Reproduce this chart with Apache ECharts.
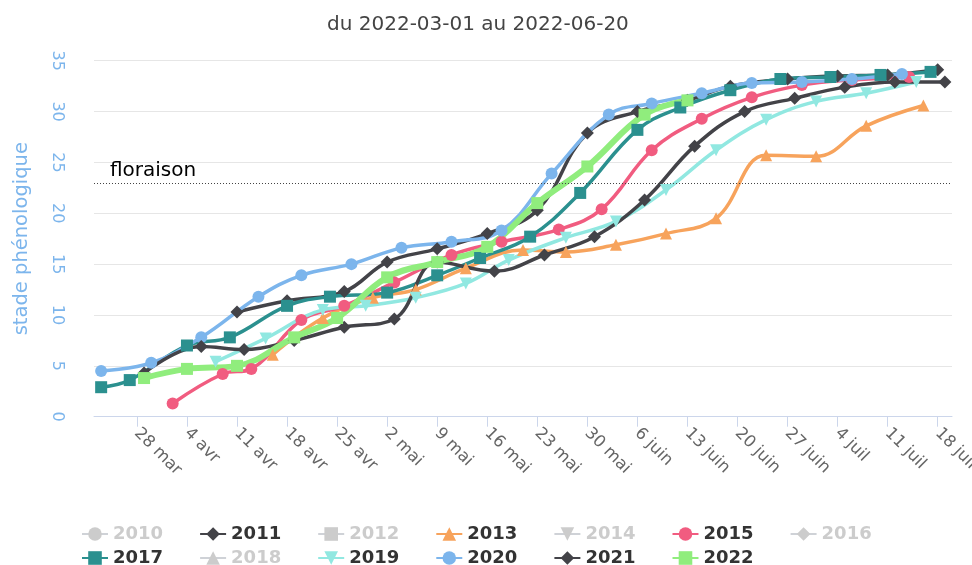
<!DOCTYPE html>
<html>
<head>
<meta charset="utf-8">
<script src="https://cdn.jsdelivr.net/npm/echarts@6/dist/echarts.min.js"></script>
<style>
html,body{margin:0;padding:0;background:#fff;}
#chart{width:972px;height:565px;}
</style>
</head>
<body>
<div id="chart"></div>
<script>
// ---- data ----
const titleText = "du 2022-03-01 au 2022-06-20";
const yAxisName = "stade phénologique";
const floraisonValue = 23;
const floraisonLabel = "floraison";

const tickDates = ["2022-03-28","2022-04-04","2022-04-11","2022-04-18","2022-04-25","2022-05-02","2022-05-09","2022-05-16","2022-05-23","2022-05-30","2022-06-06","2022-06-13","2022-06-20","2022-06-27","2022-07-04","2022-07-11","2022-07-18"];
const tickLabels = ["28 mar","4 avr","11 avr","18 avr","25 avr","2 mai","9 mai","16 mai","23 mai","30 mai","6 juin","13 juin","20 juin","27 juin","4 juil","11 juil","18 juil"];
const xStart = "2022-03-22";
const xEnd = "2022-07-20";

const years = ["2010","2011","2012","2013","2014","2015","2016","2017","2018","2019","2020","2021","2022"];
const hiddenYears = ["2010","2012","2014","2016","2018"];

const s2010 = [];
const s2011 = [["2022-04-11",10.3],["2022-04-18",11.4],["2022-04-26",12.3],["2022-05-02",15.2],["2022-05-09",16.5],["2022-05-16",18.0],["2022-05-23",20.3],["2022-05-30",27.9],["2022-06-06",30.0],["2022-06-13",31.1],["2022-06-19",32.5],["2022-06-27",33.2],["2022-07-04",33.5],["2022-07-11",33.6],["2022-07-18",34.1]];
const s2012 = [];
const s2013 = [["2022-04-16",6.1],["2022-04-23",9.7],["2022-04-30",11.7],["2022-05-06",12.5],["2022-05-13",14.6],["2022-05-21",16.4],["2022-05-27",16.2],["2022-06-03",16.9],["2022-06-10",18.0],["2022-06-17",19.5],["2022-06-24",25.7],["2022-07-01",25.6],["2022-07-08",28.6],["2022-07-16",30.6]];
const s2014 = [];
const s2015 = [["2022-04-02",1.3],["2022-04-09",4.2],["2022-04-13",4.7],["2022-04-20",9.5],["2022-04-26",10.9],["2022-05-03",13.2],["2022-05-11",15.9],["2022-05-18",17.2],["2022-05-26",18.4],["2022-06-01",20.4],["2022-06-08",26.2],["2022-06-15",29.3],["2022-06-22",31.4],["2022-06-29",32.6],["2022-07-06",33.1],["2022-07-14",33.4]];
const s2016 = [];
const s2017 = [["2022-03-23",2.9],["2022-03-27",3.6],["2022-04-04",7.0],["2022-04-10",7.8],["2022-04-18",10.9],["2022-04-24",11.8],["2022-05-02",12.2],["2022-05-09",13.9],["2022-05-15",15.6],["2022-05-22",17.7],["2022-05-29",22.0],["2022-06-06",28.2],["2022-06-12",30.4],["2022-06-19",32.1],["2022-06-26",33.2],["2022-07-03",33.4],["2022-07-10",33.6],["2022-07-17",33.9]];
const s2018 = [];
const s2019 = [["2022-04-08",5.4],["2022-04-15",7.7],["2022-04-23",10.5],["2022-04-29",10.9],["2022-05-06",11.7],["2022-05-13",13.1],["2022-05-19",15.4],["2022-05-27",17.6],["2022-06-03",19.2],["2022-06-10",22.3],["2022-06-17",26.2],["2022-06-24",29.2],["2022-07-01",31.0],["2022-07-08",31.8],["2022-07-15",32.9]];
const s2020 = [["2022-03-23",4.5],["2022-03-30",5.3],["2022-04-06",7.8],["2022-04-14",11.8],["2022-04-20",13.9],["2022-04-27",15.0],["2022-05-04",16.6],["2022-05-11",17.2],["2022-05-18",18.3],["2022-05-25",23.9],["2022-06-02",29.7],["2022-06-08",30.8],["2022-06-15",31.8],["2022-06-22",32.8],["2022-06-29",32.9],["2022-07-06",33.2],["2022-07-13",33.7]];
const s2021 = [["2022-03-29",4.3],["2022-04-06",6.9],["2022-04-12",6.6],["2022-04-19",7.5],["2022-04-26",8.8],["2022-05-03",9.6],["2022-05-09",15.2],["2022-05-17",14.3],["2022-05-24",15.9],["2022-05-31",17.7],["2022-06-07",21.3],["2022-06-14",26.6],["2022-06-21",30.0],["2022-06-28",31.3],["2022-07-05",32.4],["2022-07-12",32.9],["2022-07-19",32.9]];
const s2022 = [["2022-03-29",3.8],["2022-04-04",4.7],["2022-04-11",5.0],["2022-04-19",7.8],["2022-04-25",9.7],["2022-05-02",13.7],["2022-05-09",15.2],["2022-05-16",16.7],["2022-05-23",21.0],["2022-05-30",24.6],["2022-06-07",29.7],["2022-06-13",31.1]];

const seriesData = [s2010,s2011,s2012,s2013,s2014,s2015,s2016,s2017,s2018,s2019,s2020,s2021,s2022];

// ---- styles ----
const colors = ["#7cb5ec","#434348","#90ed7d","#f7a35c","#8085e9","#f15c80","#e4d354","#2b908f","#f45b5b","#91e8e1","#7cb5ec","#434348","#90ed7d"];
const symbols = ["circle","diamond","rect","triangle","triangle","circle","diamond","rect","triangle","triangle","circle","diamond","rect"];
const symbolRot = [0,0,0,0,180,0,0,0,0,180,0,0,0];
const FONT = "DejaVu Sans";

function ts(s){ const p = s.split('-').map(Number); return Date.UTC(p[0], p[1]-1, p[2]); }
const tickTs = tickDates.map(ts);

const series = years.map((y, i) => {
  const isLast = y === "2022";
  const s = {
    name: y,
    type: 'line',
    smooth: 0.4,
    data: seriesData[i].map(p => [ts(p[0]), p[1]]),
    color: colors[i],
    symbol: symbols[i],
    symbolRotate: symbolRot[i],
    symbolSize: symbols[i] === 'rect' ? 12 : (symbols[i] === 'diamond' ? 13 : 12),
    showAllSymbol: true,
    lineStyle: { width: isLast ? 6 : 3.5, color: colors[i] },
    itemStyle: { color: colors[i] },
    emphasis: { disabled: true }
  };
  if (isLast) {
    s.markLine = {
      silent: true,
      symbol: 'none',
      lineStyle: { color: '#444', type: [1, 2], width: 1 },
      label: { show: true, position: 'insideStartTop', formatter: floraisonLabel, color: '#000', fontSize: 20, fontFamily: FONT, distance: [16, 2] },
      data: [{ yAxis: floraisonValue }]
    };
  }
  return s;
});

const selected = {};
years.forEach(y => { selected[y] = hiddenYears.indexOf(y) < 0; });

const legendCommon = {
  left: 76,
  orient: 'horizontal',
  itemGap: 36,
  itemWidth: 26,
  itemHeight: 17,
  selected: selected,
  inactiveColor: '#cccccc',
  textStyle: { color: '#333', fontSize: 18, fontWeight: 'bold', fontFamily: FONT }
};

const chart = echarts.init(document.getElementById('chart'), null, { renderer: 'canvas' });
chart.setOption({
  animation: false,
  backgroundColor: '#fff',
  title: {
    text: titleText,
    left: 322,
    top: 10,
    textStyle: { color: '#444', fontSize: 20, fontWeight: 'normal', fontFamily: FONT }
  },
  legend: [
    Object.assign({}, legendCommon, { top: 520, data: years.slice(0, 7) }),
    Object.assign({}, legendCommon, { top: 544, data: years.slice(7) })
  ],
  grid: { left: 94, right: 20, top: 60.7, bottom: 148.3, containLabel: false, outerBoundsMode: 'none' },
  xAxis: {
    type: 'value',
    min: ts(xStart),
    max: ts(xEnd),
    axisLine: { show: true, lineStyle: { color: '#ccd6eb', width: 1 } },
    axisTick: { show: true, length: 10, lineStyle: { color: '#ccd6eb' }, customValues: tickTs },
    axisLabel: {
      customValues: tickTs,
      formatter: v => { const k = tickTs.indexOf(v); return k >= 0 ? tickLabels[k] : ''; },
      rotate: -45,
      margin: 14,
      color: '#666',
      fontSize: 16.5,
      fontFamily: FONT
    },
    splitLine: { show: false }
  },
  yAxis: {
    type: 'value',
    min: 0,
    max: 35,
    interval: 5,
    name: yAxisName,
    nameLocation: 'middle',
    nameGap: 62,
    nameTextStyle: { color: '#7cb5ec', fontSize: 19.5, fontFamily: FONT },
    axisLine: { show: false },
    axisTick: { show: false },
    axisLabel: { rotate: -90, margin: 29, color: '#7cb5ec', fontSize: 16, fontFamily: FONT },
    splitLine: { show: true, lineStyle: { color: '#e6e6e6', width: 1 } }
  },
  series: series
});
</script>
</body>
</html>
